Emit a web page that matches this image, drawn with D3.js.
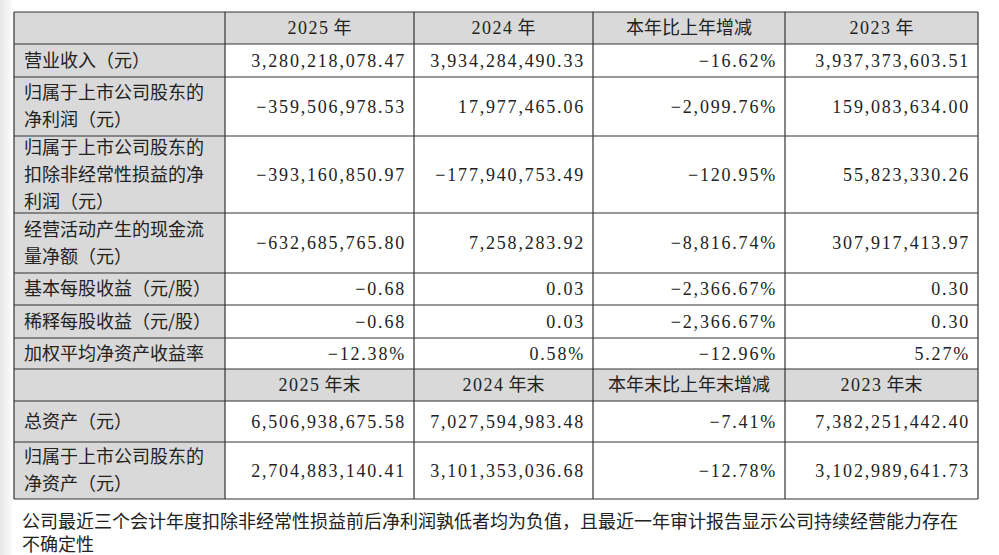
<!DOCTYPE html><html><head><meta charset="utf-8">
<script src="https://cdn.jsdelivr.net/npm/d3@7"></script>
<style>body{margin:0;background:#fff}</style></head><body>
<script>
const headers1 = ["2025 年","2024 年","本年比上年增减","2023 年"];
const headers2 = ["2025 年末","2024 年末","本年末比上年末增减","2023 年末"];
const labels1 = [["营业收入（元）"],["归属于上市公司股东的","净利润（元）"],["归属于上市公司股东的","扣除非经常性损益的净","利润（元）"],["经营活动产生的现金流","量净额（元）"],["基本每股收益（元/股）"],["稀释每股收益（元/股）"],["加权平均净资产收益率"]];
const values1 = [
 ["3,280,218,078.47","3,934,284,490.33","-16.62%","3,937,373,603.51"],
 ["-359,506,978.53","17,977,465.06","-2,099.76%","159,083,634.00"],
 ["-393,160,850.97","-177,940,753.49","-120.95%","55,823,330.26"],
 ["-632,685,765.80","7,258,283.92","-8,816.74%","307,917,413.97"],
 ["-0.68","0.03","-2,366.67%","0.30"],
 ["-0.68","0.03","-2,366.67%","0.30"],
 ["-12.38%","0.58%","-12.96%","5.27%"]];
const labels2 = [["总资产（元）"],["归属于上市公司股东的","净资产（元）"]];
const values2 = [
 ["6,506,938,675.58","7,027,594,983.48","-7.41%","7,382,251,442.40"],
 ["2,704,883,140.41","3,101,353,036.68","-12.78%","3,102,989,641.73"]];
const footnote = ["公司最近三个会计年度扣除非经常性损益前后净利润孰低者均为负值，且最近一年审计报告显示公司持续经营能力存在","不确定性"];

const colX = [14,225,414,593,785,978];
const rowY = [12,44,77,136,213,273,305,338,369,401,442,499];
const svg = d3.select("body").append("svg").attr("width",999).attr("height",555);
const defs = svg.append("defs");
const g = defs.append("linearGradient").attr("id","sh");
g.append("stop").attr("offset",0).attr("stop-color","#e6e6e6");
g.append("stop").attr("offset",1).attr("stop-color","#fff");
svg.append("rect").attr("width",14).attr("height",555).attr("fill","url(#sh)");
const cjk = "'Noto Sans CJK SC', sans-serif";
const num = "'Liberation Serif','DejaVu Serif', serif";
const rows = [];
rows.push({type:"h",cells:headers1});
labels1.forEach((l,i)=>rows.push({type:"d",label:l,cells:values1[i]}));
rows.push({type:"h",cells:headers2});
labels2.forEach((l,i)=>rows.push({type:"d",label:l,cells:values2[i]}));
const fmt = s=>s.replace(/-/g,"−");
rows.forEach((r,i)=>{
  const y0=rowY[i], y1=rowY[i+1], cy=(y0+y1)/2;
  svg.append("rect").attr("x",colX[0]).attr("y",y0).attr("width",colX[1]-colX[0]).attr("height",y1-y0).attr("fill","#d9d9d9");
  if(r.type==="h"){
    svg.append("rect").attr("x",colX[1]).attr("y",y0).attr("width",colX[5]-colX[1]).attr("height",y1-y0).attr("fill","#d9d9d9");
    r.cells.forEach((c,j)=>{
      const t=svg.append("text").attr("x",(colX[j+1]+colX[j+2])/2).attr("y",cy+6).attr("text-anchor","middle").attr("font-size",18).attr("fill","#222");
      c.split(/(\d+)/).filter(s=>s).forEach(p=>t.append("tspan").attr("font-family",/\d/.test(p)?num:cjk).attr("letter-spacing",/\d/.test(p)?1.5:0).text(p));
    });
  } else {
    const n=r.label.length, lh=27;
    r.label.forEach((l,k)=>svg.append("text").attr("x",24).attr("y",cy+6+(k-(n-1)/2)*lh).attr("font-family",cjk).attr("font-size",18).attr("fill","#222").text(l));
    r.cells.forEach((c,j)=>svg.append("text").attr("x",colX[j+2]-8).attr("y",cy+6).attr("text-anchor","end").attr("font-family",num).attr("font-size",18).attr("letter-spacing",1.8).attr("fill","#222").text(fmt(c)));
  }
});
rowY.forEach(y=>svg.append("line").attr("x1",colX[0]).attr("x2",colX[5]).attr("y1",y).attr("y2",y).attr("stroke","#333").attr("stroke-width",1.2));
colX.forEach(x=>svg.append("line").attr("x1",x).attr("x2",x).attr("y1",rowY[0]).attr("y2",rowY[rowY.length-1]).attr("stroke","#333").attr("stroke-width",1.2));
footnote.forEach((f,k)=>svg.append("text").attr("x",22).attr("y",528+k*23).attr("font-family",cjk).attr("font-size",18).attr("fill","#222").text(f));
</script></body></html>
